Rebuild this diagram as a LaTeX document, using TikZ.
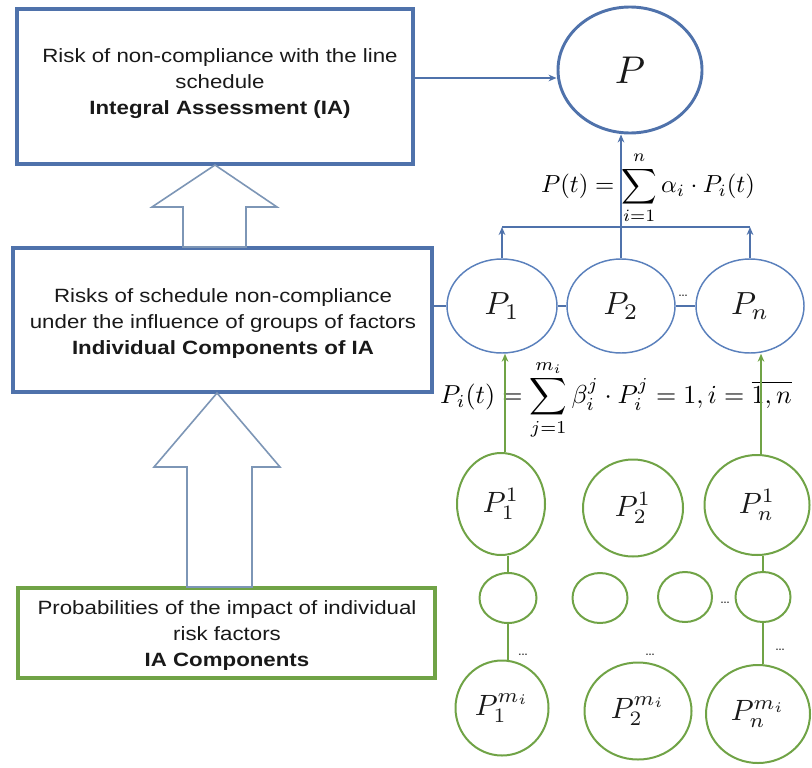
\documentclass[tikz,border=0pt]{standalone}
\usepackage{fontspec}
\setmainfont{Liberation Sans}[FakeStretch=1.16]
\usetikzlibrary{shapes.geometric,arrows.meta,calc}
\definecolor{bl}{RGB}{79,114,171}
\definecolor{blc}{RGB}{90,128,188}
\definecolor{gr}{RGB}{112,163,70}
\definecolor{ba}{RGB}{125,150,182}
\definecolor{tx}{RGB}{25,25,25}
\begin{document}
\begin{tikzpicture}[x=0.75pt,y=-0.75pt,
  box/.style={draw=#1,line width=2.4pt,rectangle,inner sep=0pt},
  btext/.style={align=center,inner sep=0pt,font=\fontsize{14.4}{19.5}\selectfont,text=tx},
  ell/.style={ellipse,draw=#1,inner sep=0pt,text=tx},
  bline/.style={draw=bl,line width=1.5pt},
  barr/.style={bline,-{Stealth[length=6pt,width=5pt]}},
  gline/.style={draw=gr,line width=1.5pt},
  garr/.style={gline,-{Stealth[length=6pt,width=5pt]}},
  blockarr/.style={draw=ba,line width=1.2pt,fill=white,line join=miter},
  dots/.style={font=\fontsize{7}{8}\selectfont\bfseries,text=tx!80,inner sep=0pt}
]
\useasboundingbox (0,0) rectangle (812,767);

% boxes
\node[box=bl,minimum width=297pt,minimum height=116.25pt] (ia) at (215,86.5) {};
\node[btext] (iat) at (220,84) {Risk of non-compliance with the line\\schedule\\\textbf{Integral Assessment (IA)}};
\node[box=bl,minimum width=314.25pt,minimum height=108pt] (ib) at (222.5,320) {};
\node[btext] (ibt) at (223,324) {Risks of schedule non-compliance\\under the influence of groups of factors\\\textbf{Individual Components of IA}};
\node[box=gr,minimum width=312.75pt,minimum height=67.5pt] (ic) at (226.5,633) {};
\node[btext] (ict) at (227,636) {Probabilities of the impact of individual\\risk factors\\\textbf{IA Components}};

% block arrows
\draw[blockarr] (215,165) -- (277,207) -- (246,207) -- (246,247) -- (183,247) -- (183,207) -- (152,207) -- cycle;
\draw[blockarr] (217,393) -- (280,467) -- (252,467) -- (252,587) -- (187,587) -- (187,467) -- (154,467) -- cycle;

% top ellipse
\node[ell=bl,line width=2.2pt,minimum width=108pt,minimum height=94.5pt] (P) at (630,70) {\scalebox{2.9}{$P$}};

% level P_i
\node[ell=blc,line width=1.1pt,minimum width=82.5pt,minimum height=70.5pt] (p1) at (502,306) {\scalebox{2.4}{$P_1$}};
\node[ell=blc,line width=1.1pt,minimum width=81pt,minimum height=70.5pt] (p2) at (621,306) {\scalebox{2.4}{$P_2$}};
\node[ell=blc,line width=1.1pt,minimum width=81pt,minimum height=70.5pt] (pn) at (750,306) {\scalebox{2.4}{$P_n$}};

% green row 1
\node[ell=gr,line width=1.5pt,minimum width=66pt,minimum height=76.5pt] (q1) at (501,504) {\scalebox{2.2}{$P_1^1$}};
\node[ell=gr,line width=1.5pt,minimum width=75pt,minimum height=72.75pt] (q2) at (633,508) {\scalebox{2.2}{$P_2^1$}};
\node[ell=gr,line width=1.5pt,minimum width=78.75pt,minimum height=75pt] (qn) at (757,505) {\scalebox{2.2}{$P_n^1$}};

% green row 2
\node[ell=gr,line width=1.5pt,minimum width=42.75pt,minimum height=37.5pt] (r1) at (508,598) {};
\node[ell=gr,line width=1.5pt,minimum width=41.25pt,minimum height=37.5pt] (r2) at (600,598) {};
\node[ell=gr,line width=1.5pt,minimum width=40.5pt,minimum height=37.5pt] (r3) at (685,597) {};
\node[ell=gr,line width=1.5pt,minimum width=41.25pt,minimum height=37.5pt] (r4) at (763,597) {};

% green row 3
\node[ell=gr,line width=1.5pt,minimum width=69.75pt,minimum height=71.25pt] (s1) at (502,708) {\scalebox{2.2}{$P_1^{m_i}$}};
\node[ell=gr,line width=1.5pt,minimum width=80.25pt,minimum height=72.75pt] (s2) at (638,711) {\scalebox{2.2}{$P_2^{m_i}$}};
\node[ell=gr,line width=1.5pt,minimum width=78pt,minimum height=73.5pt] (sn) at (758,714) {\scalebox{2.2}{$P_n^{m_i}$}};

% formulas
\node (f1) at (648,188) {\scalebox{1.85}{$\displaystyle P(t)=\sum_{i=1}^{n}\alpha_i\cdot P_i(t)$}};
\node (f2) at (616,400) {\scalebox{1.95}{$\displaystyle P_i(t)=\sum_{j=1}^{m_i}\beta_i^j\cdot P_i^j=1,i=\overline{1,n}$}};

% blue connectors
\coordinate (pin) at ([yshift=-6pt]P.west);
\draw[barr] (pin -| ia.east) -- (pin);
\draw[bline] (p1.west -| ib.east) -- (p1.west);
\draw[bline] (p1.east) -- (p2.west);
\draw[bline] (p2.east) -- (pn.west);
\coordinate (bar) at (622,227);
\draw[bline] (p1.north |- bar) -- (pn.north |- bar);
\draw[barr] (p1.north) -- (p1.north |- bar);
\draw[barr] (pn.north) -- (pn.north |- bar);
\draw[barr] (p2.north) -- (p2.north |- P.south);

% green connectors
\draw[garr] ([xshift=3pt]q1.north) -- ([xshift=3pt]q1.north |- p1.south);
\draw[garr] ([xshift=3pt]qn.north) -- ([xshift=3pt]qn.north |- pn.south);
\draw[gline] (r1.north |- q1.south) -- (r1.north);
\draw[gline] (r1.south) -- (r1.south |- s1.north);
\draw[gline] (r4.north |- qn.south) -- (r4.north);
\draw[gline] (r4.south) -- (r4.south |- sn.north);

% dots
\node[dots] (d1) at (683,296) {...};
\node[dots] (d2) at (725,603) {...};
\node[dots] (d3) at (523,655) {...};
\node[dots] (d4) at (650,655) {...};
\node[dots] (d5) at (780,650) {...};
\end{tikzpicture}
\end{document}
